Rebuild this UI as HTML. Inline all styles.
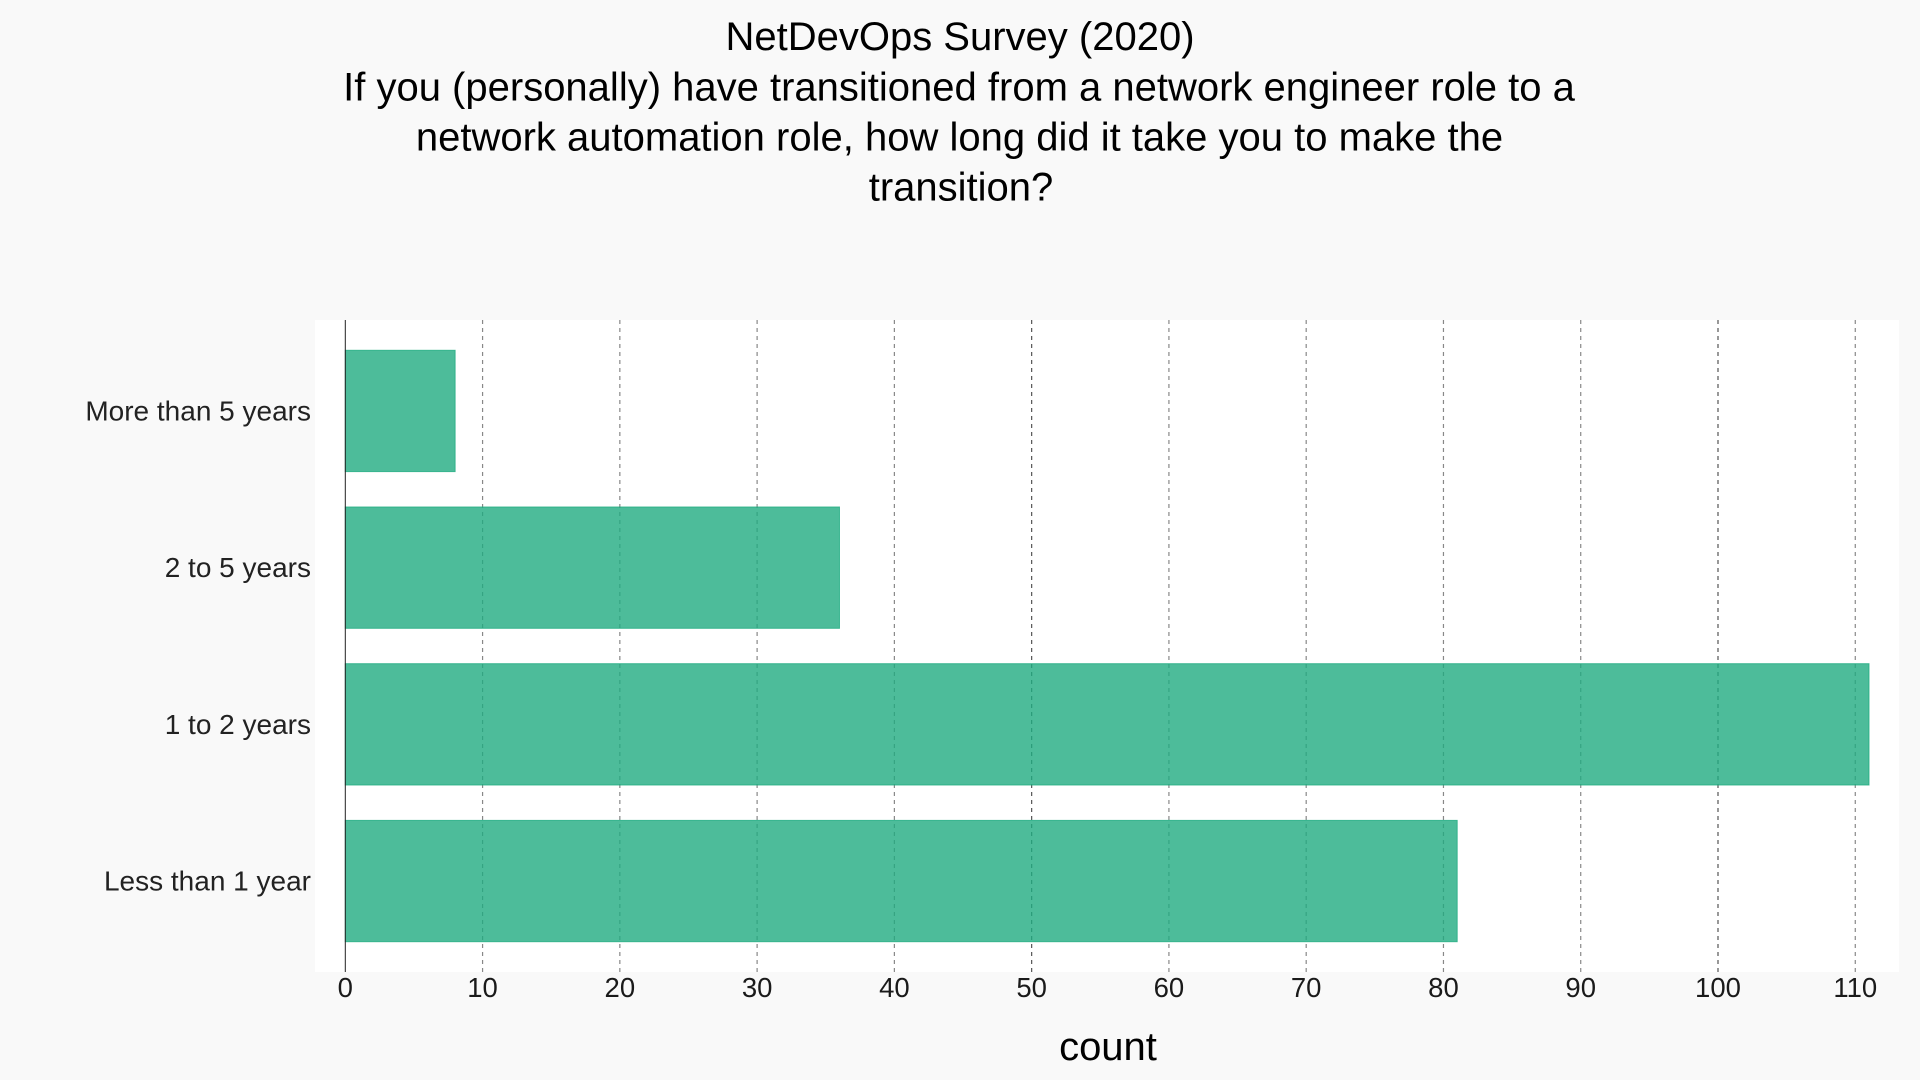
<!DOCTYPE html>
<html lang="en">
<head>
<meta charset="utf-8">
<title>NetDevOps Survey (2020)</title>
<style>
html,body{margin:0;padding:0;width:1920px;height:1080px;background:#f9f9f9;overflow:hidden}
svg{display:block;font-family:"Liberation Sans",Arial,sans-serif}
</style>
</head>
<body>
<svg id="chart" width="1920" height="1080" viewBox="0 0 1920 1080" xmlns="http://www.w3.org/2000/svg">
<rect x="0" y="0" width="1920" height="1080" fill="#f9f9f9"/>
<g font-size="40" fill="#000" text-anchor="middle">
<text x="960" y="50">NetDevOps Survey (2020)</text>
<text x="959" y="100.5">If you (personally) have transitioned from a network engineer role to a</text>
<text x="959.5" y="150.5">network automation role, how long did it take you to make the</text>
<text x="961" y="200.5">transition?</text>
</g>
<rect x="315" y="320" width="1584" height="652" fill="#ffffff"/>
<g id="grid"></g>
<g id="bars"></g>
<g id="xticks"></g>
<g id="ylabels"></g>
<line id="axis" x1="345.3" x2="345.3" y1="320" y2="972" stroke="#222" stroke-width="1"/>
<text x="1108" y="1060" font-size="40" text-anchor="middle" fill="#000">count</text>
</svg>
<script>
const categories = ["More than 5 years", "2 to 5 years", "1 to 2 years", "Less than 1 year"];
const counts = [8, 36, 111, 81];
const tickValues = [0, 10, 20, 30, 40, 50, 60, 70, 80, 90, 100, 110];

const NS = "http://www.w3.org/2000/svg";
function xScale(v) { return 345.3 + v * 13.727; }
function yBand(i) { return 350.3 + i * 156.7; }
const BAND_H = 121.3;

const gridG = document.getElementById("grid");
const barsG = document.getElementById("bars");
const ticksG = document.getElementById("xticks");
const labelsG = document.getElementById("ylabels");

tickValues.forEach(function (t) {
  const x = xScale(t);
  if (t !== 0) {
    const ln = document.createElementNS(NS, "line");
    
    
    ln.setAttribute("x1", x);
    ln.setAttribute("x2", x);
    ln.setAttribute("y1", 320);
    ln.setAttribute("y2", 972);
    ln.setAttribute("stroke", t % 50 === 0 ? "#555" : "#888");
    ln.setAttribute("stroke-width", "1.2");
    ln.setAttribute("stroke-dasharray", "4 4");
    gridG.appendChild(ln);
  }
  const tx = document.createElementNS(NS, "text");
  
  
  tx.setAttribute("x", x);
  tx.setAttribute("y", 997);
  tx.setAttribute("font-size", "27.5");
  tx.setAttribute("text-anchor", "middle");
  tx.setAttribute("fill", "#1a1a1a");
  tx.textContent = t;
  ticksG.appendChild(tx);
});

categories.forEach(function (c, i) {
  const r = document.createElementNS(NS, "rect");
  
  
  r.setAttribute("x", xScale(0));
  r.setAttribute("y", yBand(i));
  r.setAttribute("width", xScale(counts[i]) - xScale(0));
  r.setAttribute("height", BAND_H);
  r.setAttribute("fill", "#20ab81");
  r.setAttribute("fill-opacity", "0.8");
  r.setAttribute("stroke", "#20ab81");
  r.setAttribute("stroke-opacity", "0.8");
  r.setAttribute("stroke-width", "1");
  barsG.appendChild(r);

  const t = document.createElementNS(NS, "text");
  
  
  t.setAttribute("x", 311);
  t.setAttribute("y", yBand(i) + BAND_H / 2 + 9.5);
  t.setAttribute("font-size", "28");
  t.setAttribute("text-anchor", "end");
  t.setAttribute("fill", "#222");
  t.textContent = c;
  labelsG.appendChild(t);
});
</script>
</body>
</html>
